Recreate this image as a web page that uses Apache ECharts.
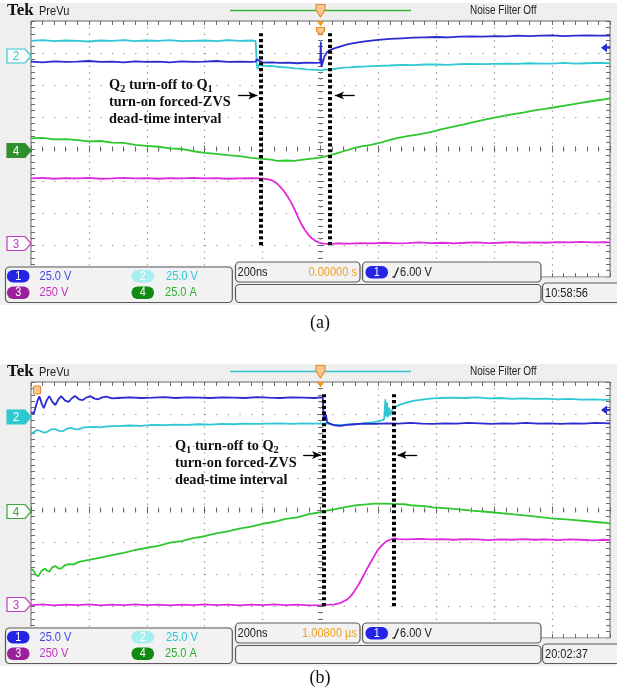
<!DOCTYPE html>
<html><head><meta charset="utf-8">
<script src="https://cdn.jsdelivr.net/npm/echarts@6/dist/echarts.min.js"></script>
<style>html,body{margin:0;padding:0;background:#fff}#c{width:617px;height:700px}</style>
</head><body><div id="c"></div>
<script>
// ---------- axis ranges (time in ns relative to trigger, amplitude in divisions) ----------
const timeRange = [-1000, 1000, 200];
const divRange = [-4, 4, 1];

// ---------- panel (a) traces: [t ns, divisions] ----------
const ch1A = [[-1000,2.73],[-960,2.71],[-920,2.74],[-880,2.72],[-840,2.73],[-800,2.75],[-760,2.72],[-720,2.73],[-680,2.71],[-640,2.74],[-600,2.72],[-560,2.73],[-520,2.71],[-480,2.74],[-440,2.72],[-400,2.73],[-360,2.75],[-320,2.72],[-280,2.73],[-240,2.72],[-224,2.73],[-220,2.80],[-214,2.74],[-200,2.70],[-170,2.71],[-140,2.69],[-110,2.70],[-80,2.68],[-50,2.70],[-20,2.69],[-1,2.70],[1,3.35],[3,2.56],[8,2.62],[14,2.90],[22,3.02],[33,3.10],[50,3.15],[70,3.21],[90,3.26],[110,3.30],[130,3.33],[160,3.37],[200,3.41],[240,3.44],[280,3.46],[320,3.48],[360,3.49],[400,3.50],[440,3.49],[480,3.51],[520,3.52],[560,3.51],[600,3.53],[640,3.52],[680,3.54],[720,3.53],[760,3.54],[800,3.55],[840,3.53],[880,3.54],[920,3.55],[960,3.54],[1000,3.54]];
const ch2A = [[-1000,3.38],[-960,3.40],[-920,3.37],[-880,3.39],[-840,3.38],[-800,3.36],[-760,3.39],[-720,3.38],[-680,3.40],[-640,3.37],[-600,3.39],[-560,3.38],[-520,3.40],[-480,3.37],[-440,3.38],[-400,3.39],[-360,3.37],[-320,3.40],[-280,3.38],[-240,3.39],[-224,3.38],[-220,2.62],[-217,2.50],[-213,2.63],[-200,2.61],[-185,2.59],[-170,2.60],[-150,2.57],[-130,2.56],[-110,2.54],[-90,2.52],[-70,2.51],[-50,2.49],[-30,2.48],[-10,2.47],[5,2.46],[15,2.49],[30,2.47],[45,2.50],[60,2.52],[80,2.54],[100,2.55],[130,2.57],[160,2.58],[200,2.60],[240,2.61],[280,2.63],[320,2.62],[360,2.64],[400,2.64],[440,2.63],[480,2.65],[520,2.66],[560,2.65],[600,2.66],[640,2.67],[680,2.66],[720,2.68],[760,2.67],[800,2.67],[840,2.69],[880,2.67],[920,2.68],[960,2.69],[1000,2.68]];
const ch3A = [[-1000,-0.92],[-960,-0.90],[-920,-0.93],[-880,-0.91],[-840,-0.92],[-800,-0.90],[-760,-0.93],[-720,-0.92],[-680,-0.90],[-640,-0.92],[-600,-0.91],[-560,-0.93],[-520,-0.91],[-480,-0.92],[-440,-0.90],[-400,-0.92],[-360,-0.91],[-320,-0.93],[-280,-0.92],[-240,-0.91],[-210,-0.92],[-195,-0.93],[-180,-0.95],[-165,-0.99],[-150,-1.08],[-138,-1.19],[-126,-1.32],[-114,-1.48],[-102,-1.66],[-90,-1.88],[-78,-2.12],[-66,-2.35],[-54,-2.53],[-42,-2.68],[-30,-2.79],[-18,-2.87],[-4,-2.93],[12,-2.96],[30,-2.97],[60,-2.95],[100,-2.96],[140,-2.94],[180,-2.95],[220,-2.93],[260,-2.95],[300,-2.94],[340,-2.92],[380,-2.94],[420,-2.93],[460,-2.95],[500,-2.93],[540,-2.92],[580,-2.94],[620,-2.93],[660,-2.91],[700,-2.93],[740,-2.92],[780,-2.93],[820,-2.91],[860,-2.92],[900,-2.90],[940,-2.92],[980,-2.91],[1000,-2.92]];
const ch4A = [[-1000,0.33],[-960,0.35],[-920,0.30],[-880,0.31],[-840,0.28],[-800,0.24],[-760,0.25],[-720,0.20],[-680,0.19],[-640,0.13],[-600,0.10],[-560,0.07],[-520,0.02],[-480,0.00],[-440,-0.07],[-400,-0.12],[-360,-0.15],[-320,-0.19],[-280,-0.22],[-240,-0.28],[-200,-0.31],[-170,-0.33],[-150,-0.37],[-120,-0.36],[-90,-0.37],[-60,-0.33],[-30,-0.30],[0,-0.27],[20,-0.22],[50,-0.15],[80,-0.07],[110,0.01],[140,0.08],[170,0.12],[200,0.18],[230,0.26],[260,0.33],[300,0.40],[340,0.46],[380,0.53],[420,0.62],[460,0.70],[500,0.78],[540,0.86],[580,0.94],[620,1.01],[660,1.08],[700,1.14],[740,1.21],[780,1.26],[820,1.32],[860,1.38],[900,1.44],[940,1.50],[980,1.55],[1000,1.58]];

// ---------- panel (b) traces ----------
const ch1B = [[-1000,3.05],[-990,3.02],[-978,3.40],[-971,3.55],[-962,3.30],[-956,3.18],[-946,3.42],[-937,3.56],[-926,3.38],[-916,3.28],[-906,3.45],[-896,3.56],[-882,3.42],[-870,3.38],[-858,3.50],[-848,3.56],[-834,3.46],[-822,3.43],[-808,3.52],[-794,3.55],[-780,3.48],[-768,3.46],[-754,3.52],[-740,3.54],[-720,3.49],[-700,3.50],[-660,3.52],[-620,3.50],[-580,3.51],[-540,3.53],[-500,3.50],[-460,3.52],[-420,3.51],[-380,3.50],[-340,3.52],[-300,3.51],[-260,3.50],[-220,3.53],[-180,3.51],[-140,3.50],[-100,3.52],[-60,3.51],[-20,3.50],[0,3.52],[8,3.51],[10,3.45],[11,2.78],[13,3.08],[16,2.80],[19,2.98],[23,2.74],[28,2.72],[40,2.67],[55,2.64],[70,2.63],[90,2.66],[116,2.68],[150,2.70],[190,2.69],[230,2.71],[270,2.70],[310,2.72],[350,2.70],[390,2.69],[430,2.71],[470,2.70],[510,2.72],[550,2.71],[590,2.69],[630,2.71],[670,2.70],[710,2.72],[750,2.70],[790,2.71],[830,2.69],[870,2.71],[910,2.70],[950,2.72],[1000,2.71]];
const ch2B = [[-1000,2.40],[-992,2.42],[-980,2.50],[-968,2.47],[-956,2.42],[-944,2.44],[-930,2.52],[-916,2.53],[-902,2.47],[-890,2.46],[-876,2.54],[-862,2.57],[-848,2.52],[-836,2.53],[-816,2.58],[-800,2.59],[-780,2.60],[-760,2.58],[-740,2.61],[-720,2.62],[-700,2.62],[-660,2.64],[-620,2.63],[-580,2.66],[-540,2.65],[-500,2.67],[-460,2.66],[-420,2.68],[-380,2.67],[-340,2.69],[-300,2.68],[-260,2.70],[-220,2.69],[-180,2.70],[-140,2.71],[-100,2.69],[-60,2.71],[-20,2.70],[10,2.71],[25,2.70],[45,2.67],[62,2.65],[90,2.67],[116,2.68],[140,2.70],[160,2.72],[180,2.74],[200,2.77],[212,2.80],[220,2.84],[224,3.46],[227,2.92],[230,3.35],[233,2.90],[237,3.20],[241,2.96],[246,3.10],[252,3.18],[266,3.26],[280,3.31],[300,3.36],[320,3.41],[350,3.45],[388,3.49],[420,3.50],[456,3.51],[500,3.50],[540,3.52],[580,3.49],[620,3.50],[660,3.47],[700,3.49],[740,3.47],[780,3.48],[820,3.46],[860,3.47],[900,3.45],[940,3.46],[980,3.44],[1000,3.45]];
const ch3B = [[-1000,-2.97],[-960,-2.95],[-920,-2.98],[-880,-2.96],[-840,-2.97],[-800,-2.95],[-760,-2.98],[-720,-2.96],[-680,-2.97],[-640,-2.95],[-600,-2.97],[-560,-2.96],[-520,-2.98],[-480,-2.96],[-440,-2.97],[-400,-2.95],[-360,-2.97],[-320,-2.96],[-280,-2.98],[-240,-2.96],[-200,-2.97],[-160,-2.95],[-120,-2.97],[-80,-2.96],[-40,-2.98],[0,-2.97],[30,-2.96],[49,-2.95],[70,-2.90],[90,-2.81],[104,-2.70],[116,-2.55],[130,-2.36],[143,-2.14],[157,-1.90],[171,-1.67],[185,-1.45],[198,-1.25],[212,-1.10],[226,-0.99],[240,-0.93],[252,-0.89],[270,-0.91],[300,-0.92],[340,-0.90],[380,-0.92],[420,-0.91],[460,-0.93],[500,-0.91],[540,-0.92],[580,-0.94],[620,-0.92],[660,-0.93],[700,-0.91],[740,-0.93],[780,-0.92],[820,-0.94],[860,-0.92],[900,-0.93],[940,-0.95],[980,-0.93],[1000,-0.94]];
const ch4B = [[-1000,-1.86],[-992,-1.88],[-984,-2.03],[-975,-2.07],[-963,-1.90],[-951,-1.83],[-944,-1.90],[-937,-1.93],[-927,-1.80],[-917,-1.75],[-906,-1.82],[-896,-1.83],[-882,-1.72],[-869,-1.69],[-852,-1.70],[-835,-1.62],[-800,-1.56],[-760,-1.49],[-720,-1.41],[-680,-1.34],[-640,-1.25],[-600,-1.18],[-560,-1.12],[-520,-1.02],[-480,-0.97],[-440,-0.88],[-400,-0.82],[-360,-0.73],[-320,-0.67],[-280,-0.58],[-240,-0.52],[-200,-0.43],[-160,-0.37],[-120,-0.28],[-80,-0.23],[-40,-0.13],[0,-0.07],[23,-0.02],[60,0.04],[90,0.10],[116,0.14],[150,0.17],[185,0.20],[220,0.20],[252,0.19],[290,0.18],[320,0.14],[360,0.12],[388,0.08],[450,0.04],[524,-0.02],[590,-0.07],[660,-0.13],[730,-0.19],[796,-0.26],[860,-0.30],[932,-0.36],[970,-0.39],[1000,-0.42]];

// ---------- annotations ----------
const deadTimeA = [-206, 33];
const deadTimeB = [12, 253];
const dotSpanA = [3.62, -3.02];
const dotSpanB = [3.62, -3.06];
const arrowsA = [[-285, -218, 1.67], [118, 50, 1.67]];
const arrowsB = [[-60, 2, 1.72], [334, 266, 1.72]];
const notesA = ['Q', '2', ' turn-off to Q', '1', 'turn-on forced-ZVS', 'dead-time interval'];
const notesB = ['Q', '1', ' turn-off to Q', '2', 'turn-on forced-ZVS', 'dead-time interval'];

// ---------- readouts ----------
const chanScales = ['25.0 V', '25.0 V', '250 V', '25.0 A'];
const horizScale = ['200ns', '200ns'];
const horizPos = ['0.00000 s', '1.00800 \u00b5s'];
const trigLevel = ['6.00 V', '6.00 V'];
const clocks = ['10:58:56', '20:02:37'];
const captions = ['(a)', '(b)'];

// ---------- styling ----------
const C1 = '#2b2bd2', C2 = '#2fc8d2', C3 = '#dc2adc', C4 = '#2ec82e';
const TICK = '#6a6a6a', DOT = '#8a8a8a';
const SANS = '"Liberation Sans", Arial, sans-serif';
const SERIF = '"Liberation Serif", "Times New Roman", serif';
const GRID_TOPS = [21, 382];
const SHIFT = 361;

function axesFor(p, dim) {
  const base = 4 * p;
  const rng = dim === 'x' ? timeRange : divRange;
  const posA = dim === 'x' ? 'bottom' : 'left';
  const posB = dim === 'x' ? 'top' : 'right';
  const mk = (extra, inside, len, mlen) => Object.assign({
    gridIndex: p, type: 'value', min: rng[0], max: rng[1], interval: rng[2],
    axisLabel: { show: false }, splitLine: { show: false },
    axisLine: { show: false, onZero: false },
    axisTick: { show: true, inside: inside, length: len, lineStyle: { color: TICK, width: 1 } },
    minorTick: { show: true, splitNumber: 5, length: mlen, lineStyle: { color: TICK, width: 1 } },
    minorSplitLine: { show: false }
  }, extra);
  return [
    mk({ position: posA, splitLine: { show: true, lineStyle: { color: DOT, width: 1.2, type: dim === 'x' ? [1.2, 5.2] : [1.2, 10.38] } } }, true, 4, 4),
    mk({ position: posB }, true, 4, 4),
    mk({ position: posA, axisLine: { show: false, onZero: true, onZeroAxisIndex: base } }, true, 3.5, 2.5),
    mk({ position: posA, axisLine: { show: false, onZero: true, onZeroAxisIndex: base } }, false, 3.5, 2.5)
  ];
}

function trace(p, data, color, extra) {
  return Object.assign({
    type: 'line', xAxisIndex: 4 * p, yAxisIndex: 4 * p, data: data,
    showSymbol: false, symbol: 'none', silent: true, animation: false,
    lineStyle: { color: color, width: 1.8 }, itemStyle: { color: color }, z: 3
  }, extra || {});
}

function marks(dt, span, arrows) {
  const data = dt.map(t => [{ coord: [t, span[0]], symbol: 'none' }, { coord: [t, span[1]], symbol: 'none' }]);
  arrows.forEach(a => data.push([
    { coord: [a[0], a[2]], symbol: 'none', lineStyle: { type: 'solid', width: 1.3, color: '#000' } },
    { coord: [a[1], a[2]], symbol: 'arrow', symbolSize: [6, 9] }
  ]));
  return {
    markLine: {
      silent: true, animation: false, symbol: 'none', label: { show: false },
      emphasis: { disabled: true },
      lineStyle: { color: '#000', width: 4, type: [3.2, 2.6], opacity: 1 },
      data: data
    }
  };
}

function T(x, y, text, size, fill, align, sx, weight, fam) {
  return {
    type: 'text', x: x, y: y, z: 70, scaleX: sx || 1, silent: true,
    style: {
      text: text, fill: fill,
      font: (weight || 'normal') + ' ' + size + 'px ' + (fam || SANS),
      textAlign: align || 'left', align: align || 'left',
      textVerticalAlign: 'middle', verticalAlign: 'middle'
    }
  };
}
function R(x, y, w, h, r, fill, stroke, z) {
  return { type: 'rect', z: z || 60, silent: true, shape: { x: x, y: y, width: w, height: h, r: r },
    style: { fill: fill, stroke: stroke || null, lineWidth: stroke ? 1.2 : 0 } };
}
function P(points, fill, stroke, z) {
  return { type: 'polygon', z: z || 60, silent: true, shape: { points: points },
    style: { fill: fill, stroke: stroke || null, lineWidth: stroke ? 1.2 : 0 } };
}
function pill(x, y, label, fill) {
  return [R(x, y, 22.5, 12.5, 6, fill, null, 66), T(x + 11.25, y + 6.5, label, 12, '#fff', 'center', 0.9)];
}
function chMarker(y, label, color, filled) {
  const pts = [[7, y - 7], [25, y - 7], [31, y], [25, y + 7], [7, y + 7]];
  return [P(pts, filled ? color : '#fbfbfb', color, 20), T(16, y + 0.5, label, 13, filled ? '#fff' : color, 'center', 0.9)];
}

function panelDecor(p) {
  const d = p * SHIFT;
  const els = [];
  els.push(Object.assign(R(0, 3 + d, 617, 302, 0, '#efefef'), { z: -10 }));
  els.push(T(7, 10.5 + d, 'Tek', 17, '#111', 'left', 1, 'bold', SERIF));
  els.push(T(39, 11 + d, 'PreVu', 13, '#222', 'left', 0.85));
  els.push(T(470, 11 + d, 'Noise Filter Off', 12.5, '#222', 'left', 0.8));
  els.push({ type: 'line', z: 60, silent: true, shape: { x1: 230, y1: 10.5 + d, x2: 411, y2: 10.5 + d },
    style: { stroke: p === 0 ? '#36b536' : '#36c8d2', lineWidth: 1.5 } });
  els.push(P([[316, 4.5 + d], [325, 4.5 + d], [325, 10 + d], [320.5, 17 + d], [316, 10 + d]], '#f8c896', '#e58c2a', 61));
  els.push(P([[316.5, 21 + d], [324.5, 21 + d], [320.5, 26.5 + d]], '#f39a1e', null, 61));
  if (p === 0) {
    els.push(P([[316.5, 27.5], [324.5, 27.5], [324.5, 31], [320.5, 35], [316.5, 31]], '#f8c896', '#e58c2a', 61));
  } else {
    els.push(R(33.5, 386 + d - SHIFT + 0, 7, 8, 1, '#f8c896', '#e58c2a', 61));
  }
  els.push(...chMarker(56 + d, '2', C2, p === 1));
  els.push(...chMarker(150.5 + d, '4', p === 0 ? '#2f8f2f' : '#3aa53a', p === 0));
  els.push(...chMarker(243.5 + d, '3', '#c43cc4', false));
  const ay = (p === 0 ? 47.7 : 49) + d;
  els.push(P([[601, ay], [607, ay - 4.5], [607, ay + 4.5]], C1, null, 61));
  els.push({ type: 'line', z: 61, silent: true, shape: { x1: 606, y1: ay, x2: 610, y2: ay }, style: { stroke: C1, lineWidth: 2 } });
  els.push(R(0, 265.5 + d, 541, 39.5, 0, '#efefef', null, 55));
  els.push(R(541, 277.5 + d, 76, 27.5, 0, '#efefef', null, 55));
  els.push(R(5.5, 267 + d, 226.8, 35.5, 4, '#f2f2f2', '#5a5a5a', 58));
  els.push(R(235.5, 262 + d, 124.5, 20, 4, '#f2f2f2', '#5a5a5a', 58));
  els.push(R(362.5, 262 + d, 178.5, 20, 4, '#f2f2f2', '#5a5a5a', 58));
  els.push(R(235.5, 284.5 + d, 305.5, 18, 4, '#f2f2f2', '#5a5a5a', 58));
  els.push(R(542.5, 283 + d, 80, 19.5, 4, '#f2f2f2', '#5a5a5a', 58));
  els.push(...pill(7, 270 + d, '1', '#2424e6'));
  els.push(T(39.5, 276.5 + d, chanScales[0], 13, '#4444e4', 'left', 0.85));
  els.push(...pill(131.5, 270 + d, '2', '#a6eef0'));
  els.push(T(166, 276.5 + d, chanScales[1], 13, '#25cbdb', 'left', 0.85));
  els.push(...pill(7, 286.5 + d, '3', '#9c1f9c'));
  els.push(T(39.5, 292.5 + d, chanScales[2], 13, '#bf34bf', 'left', 0.85));
  els.push(...pill(131.5, 286.5 + d, '4', '#118a11'));
  els.push(T(165, 292.5 + d, chanScales[3], 13, '#2fae2f', 'left', 0.85));
  els.push(T(237.5, 272 + d, horizScale[p], 13, '#222', 'left', 0.85));
  els.push(T(357, 272 + d, horizPos[p], 13, '#f0a020', 'right', 0.85));
  els.push(...pill(365.5, 266 + d, '1', '#2424e6'));
  els.push({ type: 'polyline', z: 70, silent: true, shape: { points: [[392.5, 277 + d], [394.5, 277 + d], [398.5, 267.5 + d]] }, style: { stroke: '#222', lineWidth: 1.3, fill: null } });
  els.push(T(400, 272 + d, trigLevel[p], 13, '#222', 'left', 0.85));
  els.push(T(545, 293.5 + d, clocks[p], 13, '#222', 'left', 0.85));
  els.push(T(320, 323 + (p === 0 ? 0 : 355.5), captions[p], 18, '#111', 'center', 1, 'normal', SERIF));
  const n = p === 0 ? notesA : notesB;
  els.push({
    type: 'text', x: p === 0 ? 109 : 175, y: 77 + d, z: 70, silent: true,
    style: {
      text: '{m|' + n[0] + '}{s|' + n[1] + '}{m|' + n[2] + '}{s|' + n[3] + '}\n{m|' + n[4] + '}\n{m|' + n[5] + '}',
      textAlign: 'left', align: 'left', textVerticalAlign: 'top', verticalAlign: 'top',
      rich: {
        m: { fontSize: 14.3, fontWeight: 'bold', fontFamily: SERIF, fill: '#111', lineHeight: 16.8 },
        s: { fontSize: 10.5, fontWeight: 'bold', fontFamily: SERIF, fill: '#111', lineHeight: 16.8, padding: [7, 0, 0, 0] }
      }
    }
  });
  return els;
}

const chart = echarts.init(document.getElementById('c'), null, { renderer: 'canvas' });
const option = {
  animation: false,
  backgroundColor: '#fff',
  grid: GRID_TOPS.map(t => ({ left: 31, top: t, width: 579, height: 256, show: true, backgroundColor: '#fff', borderColor: '#6a6a6a', borderWidth: 1, containLabel: false, outerBoundsMode: 'none' })),
  xAxis: [...axesFor(0, 'x'), ...axesFor(1, 'x')],
  yAxis: [...axesFor(0, 'y'), ...axesFor(1, 'y')],
  series: [
    trace(0, ch3A, C3), trace(0, ch4A, C4), trace(0, ch2A, C2), trace(0, ch1A, C1, marks(deadTimeA, dotSpanA, arrowsA)),
    trace(1, ch3B, C3), trace(1, ch4B, C4), trace(1, ch2B, C2), trace(1, ch1B, C1, marks(deadTimeB, dotSpanB, arrowsB))
  ],
  graphic: { elements: [...panelDecor(0), ...panelDecor(1)] }
};
chart.setOption(option);
</script>
</body></html>
